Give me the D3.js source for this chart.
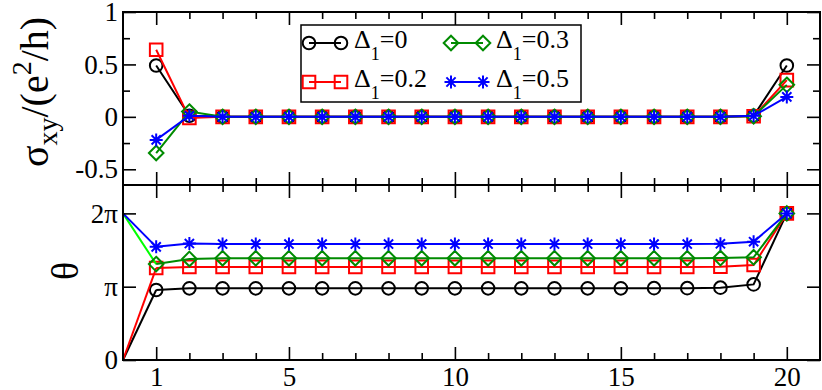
<!DOCTYPE html>
<html>
<head>
<meta charset="utf-8">
<script src="https://cdn.jsdelivr.net/npm/d3@7"></script>
</head>
<body style="margin:0">
<svg id="chart" width="822" height="390"></svg>
<script>
// sites along the chain
var sites = [1, 2, 3, 4, 5, 6, 7, 8, 9, 10, 11, 12, 13, 14, 15, 16, 17, 18, 19, 20];
var thetaSites = [0, 1, 2, 3, 4, 5, 6, 7, 8, 9, 10, 11, 12, 13, 14, 15, 16, 17, 18, 19, 20];

// sigma_xy in units of e^2/h
var sigma00 = [0.49, 0.01, 0, 0, 0, 0, 0, 0, 0, 0, 0, 0, 0, 0, 0, 0, 0, 0, 0.01, 0.49];
var sigma02 = [0.64, -0.01, 0, 0, 0, 0, 0, 0, 0, 0, 0, 0, 0, 0, 0, 0, 0, 0, 0.005, 0.35];
var sigma03 = [-0.345, 0.05, 0, 0, 0, 0, 0, 0, 0, 0, 0, 0, 0, 0, 0, 0, 0, 0, 0.005, 0.305];
var sigma05 = [-0.22, 0.01, 0, 0, 0, 0, 0, 0, 0, 0, 0, 0, 0, 0, 0, 0, 0, 0, 0.01, 0.19];

// theta (radians)
var theta00 = [0, 3.00, 3.07, 3.07, 3.07, 3.07, 3.07, 3.07, 3.07, 3.07, 3.07, 3.07, 3.07, 3.07, 3.07, 3.07, 3.08, 3.08, 3.10, 3.24, 6.283];
var theta02 = [0, 3.94, 3.99, 3.99, 3.99, 3.99, 3.99, 3.99, 3.99, 3.99, 3.99, 3.99, 3.99, 3.99, 3.99, 3.99, 3.99, 3.99, 4.00, 4.07, 6.283];
var theta03 = [6.283, 4.11, 4.33, 4.36, 4.36, 4.36, 4.36, 4.36, 4.36, 4.36, 4.36, 4.36, 4.36, 4.36, 4.36, 4.36, 4.36, 4.36, 4.37, 4.40, 6.283];
var theta05 = [6.283, 4.85, 4.99, 4.97, 4.97, 4.97, 4.97, 4.97, 4.97, 4.97, 4.97, 4.97, 4.97, 4.97, 4.97, 4.97, 4.97, 4.97, 4.98, 5.07, 6.283];

var deltaLabels = ["0", "0.2", "0.3", "0.5"];
var colors = ["#000000", "#ff0000", "#008b00", "#0000ff"];
var leadColors = ["#000000", "#ff0000", "#00ff00", "#0000ff"];
var symbols = ["circle", "square", "diamond", "star"];
var sigmaSeries = [sigma00, sigma02, sigma03, sigma05];
var thetaSeries = [theta00, theta02, theta03, theta05];

var xMajor = [1, 5, 10, 15, 20];
var xMinor = [2, 3, 4, 6, 7, 8, 9, 11, 12, 13, 14, 16, 17, 18, 19];
var sigmaMajor = [-0.5, 0, 0.5, 1];
var sigmaMinor = [-0.25, 0.25, 0.75];
var sigmaTickText = ["-0.5", "0", "0.5", "1"];
var thetaMajor = [0, Math.PI, 2 * Math.PI];
var thetaTickText = ["0", "\u03c0", "2\u03c0"];

var FONT = "'Liberation Serif'";
var svg = d3.select("#chart");
var LEFT = 123, RIGHT = 820;
var TOP1 = 12, MID = 185, BOT2 = 360;
var MAJOR = 13, MINOR = 7;

var x = d3.scaleLinear().domain([0, 21]).range([LEFT, RIGHT]);
var ySigma = d3.scaleLinear().domain([-0.65, 1]).range([MID, TOP1]);
var yTheta = d3.scaleLinear().domain([0, 7.5]).range([BOT2, MID]);

function symbolPath(type) {
    if (type == "circle") return "M-6.3,0A6.3,6.3 0 1,0 6.3,0A6.3,6.3 0 1,0 -6.3,0Z";
    if (type == "square") return "M-6.3,-6.3H6.3V6.3H-6.3Z";
    if (type == "diamond") return "M0,-7.3L7.3,0L0,7.3L-7.3,0Z";
    return "M-6.5,0H6.5M0,-6.5V6.5M-4.6,-4.6L4.6,4.6M-4.6,4.6L4.6,-4.6";
}

function drawMarkers(g, pts, type, color) {
    g.selectAll(null)
        .data(pts)
        .enter().append("path")
        .attr("d", symbolPath(type))
        .attr("transform", function(d) { return "translate(" + d[0] + "," + d[1] + ")"; })
        .style("fill", "none")
        .style("stroke", color)
        .style("stroke-width", 2);
}

function tickAxes(g, yScale, yMaj, yMin, top, bottom) {
    var sets = [[xMajor, MAJOR], [xMinor, MINOR]];
    sets.forEach(function(s) {
        g.append("g").attr("transform", "translate(0," + bottom + ")")
            .call(d3.axisBottom(x).tickValues(s[0]).tickSize(-s[1]).tickFormat(""));
        g.append("g").attr("transform", "translate(0," + top + ")")
            .call(d3.axisTop(x).tickValues(s[0]).tickSize(-s[1]).tickFormat(""));
    });
    var ysets = [[yMaj, MAJOR], [yMin, MINOR]];
    ysets.forEach(function(s) {
        if (!s[0].length) return;
        g.append("g").attr("transform", "translate(" + LEFT + ",0)")
            .call(d3.axisLeft(yScale).tickValues(s[0]).tickSize(-s[1]).tickFormat(""));
        g.append("g").attr("transform", "translate(" + RIGHT + ",0)")
            .call(d3.axisRight(yScale).tickValues(s[0]).tickSize(-s[1]).tickFormat(""));
    });
    g.selectAll(".domain").remove();
    g.selectAll(".tick line").style("stroke", "#000").style("stroke-width", 1.6);
}

function styleLabels(a) {
    a.select(".domain").remove();
    a.attr("font-family", null).attr("font-size", null);
    a.selectAll("text").style("font-size", "27px").style("font-family", FONT).style("fill", "#000");
}

var line = d3.line().x(function(d) { return d[0]; }).y(function(d) { return d[1]; });

// ---- top panel: sigma_xy
var gTop = svg.append("g");
sigmaSeries.forEach(function(vals, i) {
    var pts = vals.map(function(v, k) { return [x(sites[k]), ySigma(v)]; });
    gTop.append("path").attr("d", line(pts))
        .style("fill", "none").style("stroke", colors[i]).style("stroke-width", 2);
    drawMarkers(gTop, pts, symbols[i], colors[i]);
});
tickAxes(gTop, ySigma, sigmaMajor, sigmaMinor, TOP1, MID);

gTop.append("g").attr("transform", "translate(" + LEFT + ",0)")
    .call(d3.axisLeft(ySigma).tickValues(sigmaMajor).tickSize(0).tickPadding(5)
        .tickFormat(function(d, i) { return sigmaTickText[i]; }))
    .call(styleLabels);

// ---- bottom panel: theta
var gBot = svg.append("g");
thetaSeries.forEach(function(vals, i) {
    var pts = vals.map(function(v, k) { return [x(thetaSites[k]), yTheta(v)]; });
    gBot.append("path").attr("d", line(pts.slice(0, 2)))
        .style("fill", "none").style("stroke", leadColors[i]).style("stroke-width", 2);
    gBot.append("path").attr("d", line(pts.slice(1)))
        .style("fill", "none").style("stroke", colors[i]).style("stroke-width", 2);
    drawMarkers(gBot, pts.slice(1), symbols[i], colors[i]);
});
tickAxes(gBot, yTheta, thetaMajor, [], MID, BOT2);

gBot.append("g").attr("transform", "translate(" + LEFT + ",0)")
    .call(d3.axisLeft(yTheta).tickValues(thetaMajor).tickSize(0).tickPadding(5)
        .tickFormat(function(d, i) { return thetaTickText[i]; }))
    .call(styleLabels);

gBot.append("g").attr("transform", "translate(0," + BOT2 + ")")
    .call(d3.axisBottom(x).tickValues(xMajor).tickSize(0).tickPadding(7))
    .call(styleLabels);

// frames
[[TOP1, MID], [MID, BOT2]].forEach(function(p) {
    svg.append("rect")
        .attr("x", LEFT).attr("y", p[0])
        .attr("width", RIGHT - LEFT).attr("height", p[1] - p[0])
        .style("fill", "none").style("stroke", "#000").style("stroke-width", 2);
});

// axis titles
var yt = svg.append("text")
    .attr("transform", "translate(48,92) rotate(-90)")
    .attr("text-anchor", "middle")
    .style("font-family", FONT)
    .style("font-size", "40px");
yt.append("tspan").text("\u03c3");
yt.append("tspan").attr("dy", 9).style("font-size", "28px").text("xy");
yt.append("tspan").attr("dy", -9).text("/(e");
yt.append("tspan").attr("dy", -17).style("font-size", "28px").text("2");
yt.append("tspan").attr("dy", 17).text("/h)");

svg.append("text")
    .attr("transform", "translate(78,271) rotate(-90)")
    .attr("text-anchor", "middle")
    .style("font-family", FONT)
    .style("font-size", "38px")
    .text("\u03b8");

// legend
var leg = svg.append("g");
leg.append("rect")
    .attr("x", 301).attr("y", 25).attr("width", 280).attr("height", 77)
    .style("fill", "#fff").style("stroke", "#000").style("stroke-width", 1.5);
var legPos = [[309, 43], [309, 82], [451, 43], [451, 82]];
deltaLabels.forEach(function(lbl, i) {
    var lx = legPos[i][0], ly = legPos[i][1];
    var pts = [[lx, ly], [lx + 32, ly]];
    leg.append("path").attr("d", line(pts))
        .style("fill", "none").style("stroke", colors[i]).style("stroke-width", 2);
    drawMarkers(leg, pts, symbols[i], colors[i]);
    var t = leg.append("text")
        .attr("x", lx + 45).attr("y", ly + 5)
        .style("font-family", FONT)
        .style("font-size", "26px");
    t.append("tspan").text("\u0394");
    t.append("tspan").attr("dy", 12).style("font-size", "18px").text("1");
    t.append("tspan").attr("dy", -12).text("=" + lbl);
});
</script>
</body>
</html>
